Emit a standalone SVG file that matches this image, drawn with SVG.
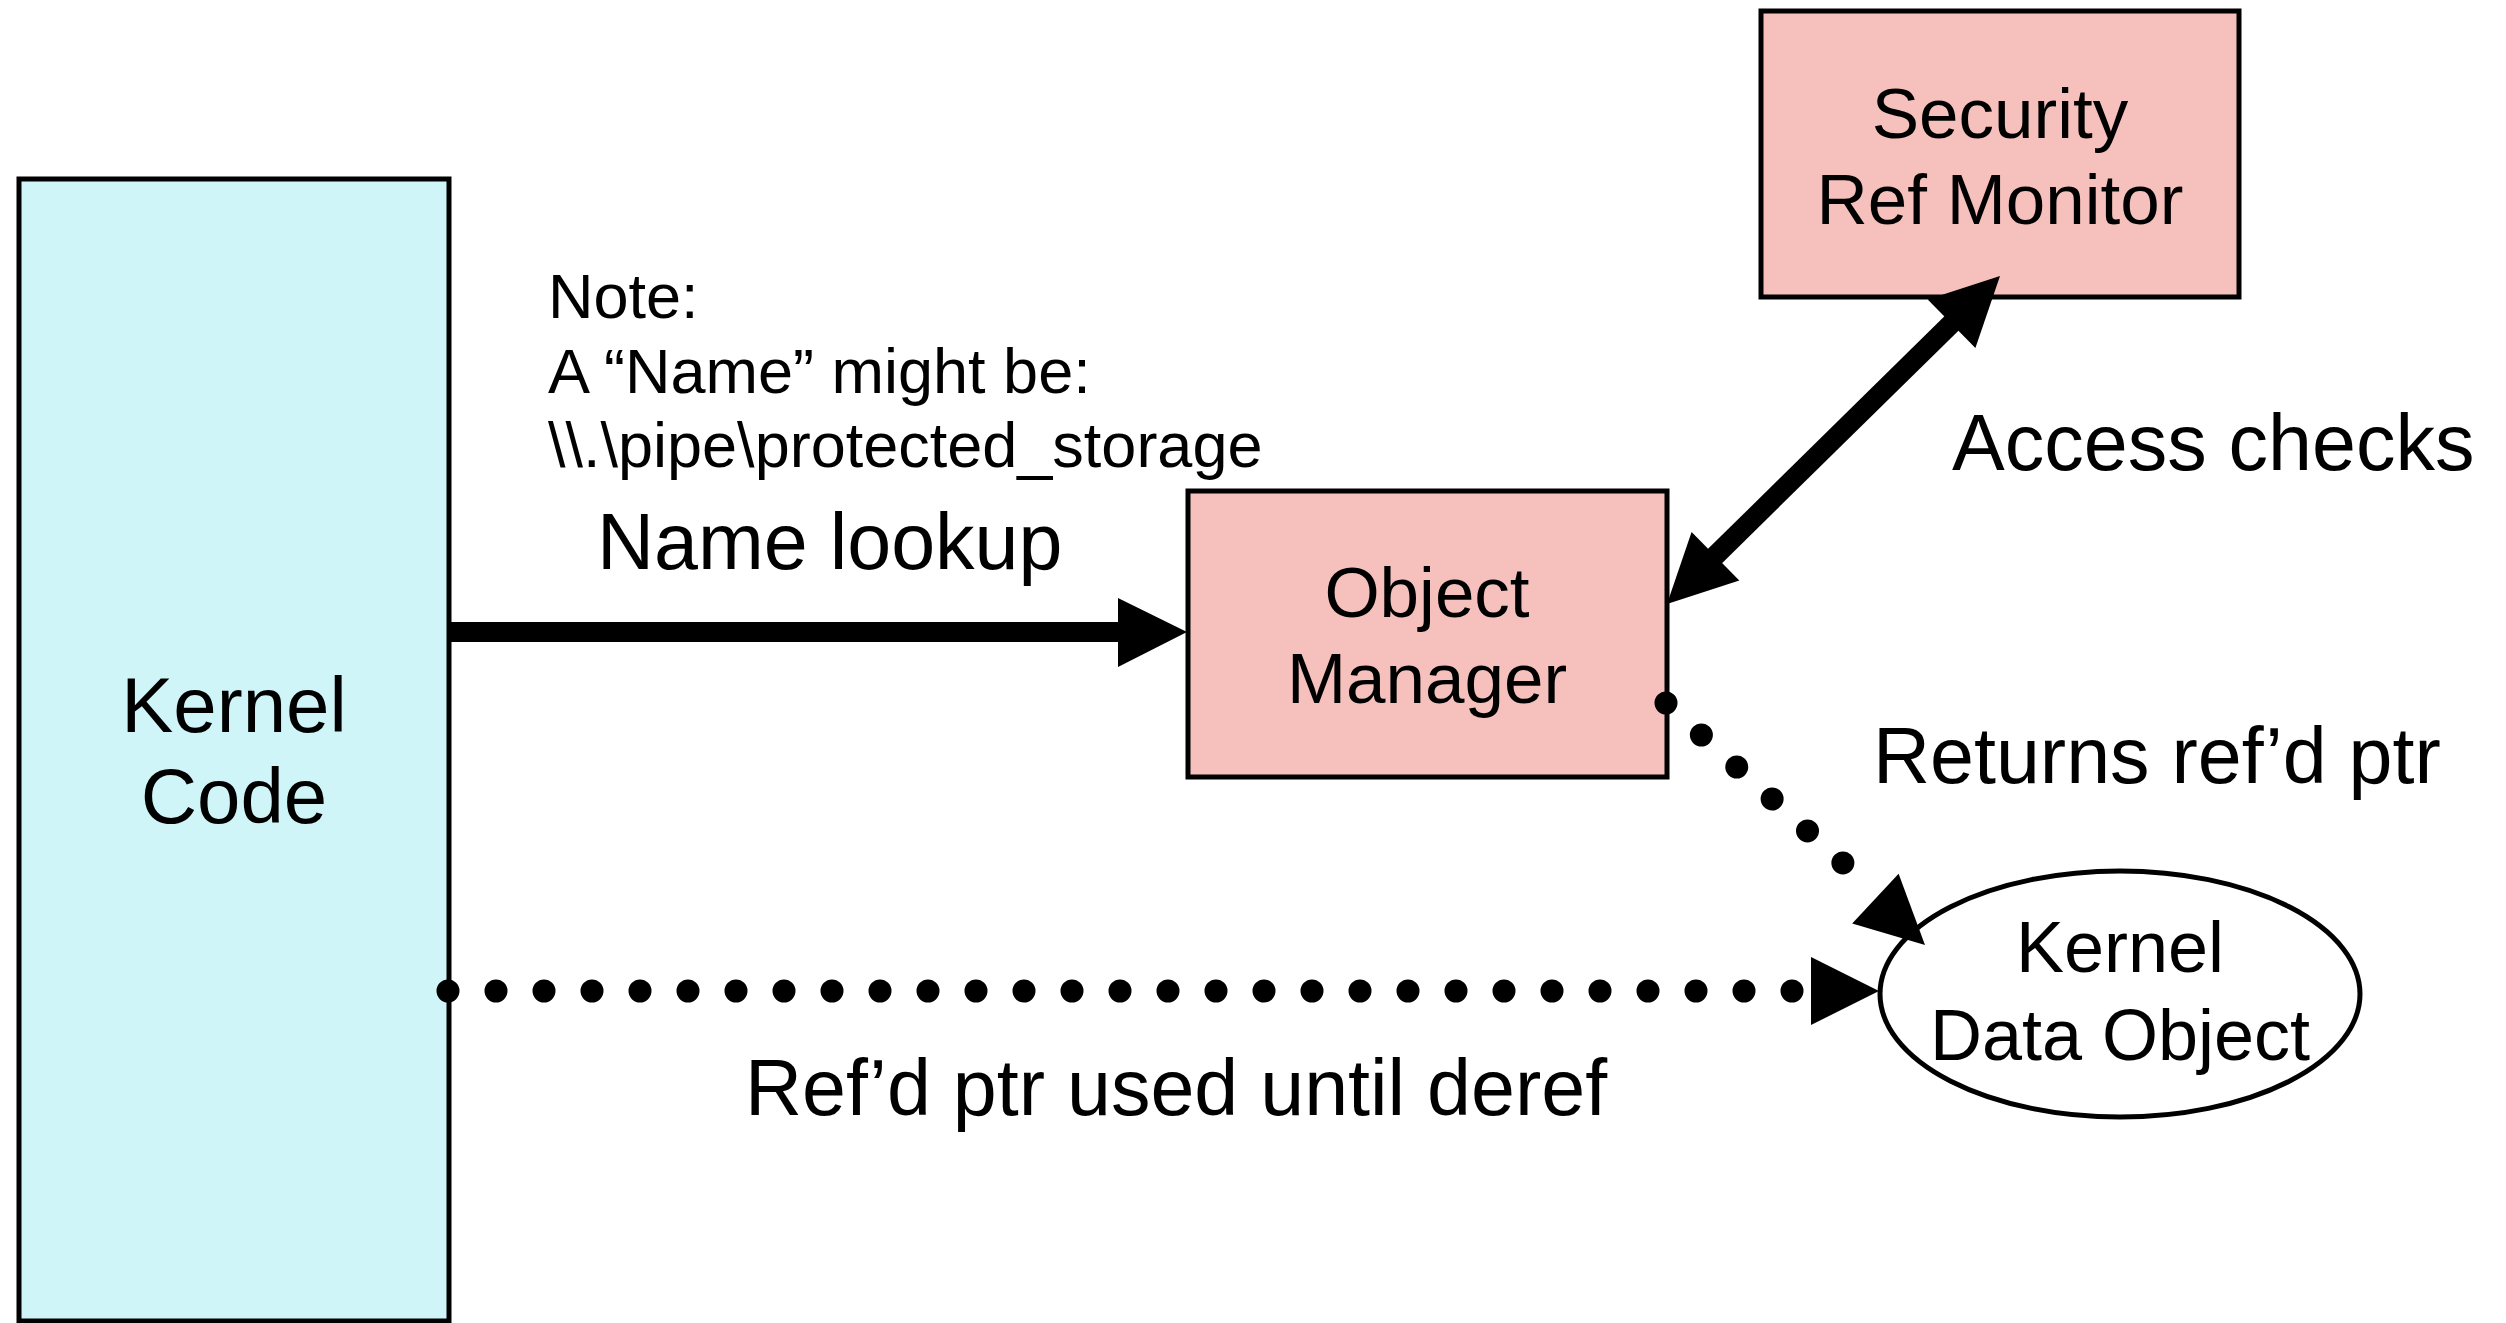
<svg xmlns="http://www.w3.org/2000/svg" width="2506" height="1323" viewBox="0 0 2506 1323">
  <style>
    text { font-family: "Liberation Sans", Arial, Helvetica, sans-serif; fill: #000; }
    .label { font-size: 79px; }
    .boxlabel { font-size: 71px; text-anchor: middle; }
    .note { font-size: 63px; }
    .box { stroke: #000; stroke-width: 5; }
    .kernel { fill: #CFF5F8; }
    .exec { fill: #F6C1BC; }
    .solid { stroke: #000; stroke-width: 20; fill: none; }
    .dotted { stroke: #000; stroke-width: 23; stroke-linecap: round; fill: none; }
    .head { fill: #000; }
  </style>
  <rect width="2506" height="1323" fill="#fff"/>

  <!-- Kernel code (extends past the bottom edge) -->
  <g id="kernel-code">
    <rect class="box kernel" x="19" y="179" width="430" height="1142"/>
    <text class="label" x="234" y="732" text-anchor="middle" style="font-size:78px">Kernel</text>
    <text class="label" x="234" y="823" text-anchor="middle" style="font-size:78px">Code</text>
  </g>

  <!-- Security reference monitor -->
  <g id="security-ref-monitor">
    <rect class="box exec" x="1761" y="11" width="478" height="286"/>
    <text class="boxlabel" x="2000" y="138">Security</text>
    <text class="boxlabel" x="2000" y="224">Ref Monitor</text>
  </g>

  <!-- Object manager -->
  <g id="object-manager">
    <rect class="box exec" x="1188" y="491" width="479" height="286"/>
    <text class="boxlabel" x="1427" y="617">Object</text>
    <text class="boxlabel" x="1427" y="703">Manager</text>
  </g>

  <!-- Kernel data object -->
  <g id="kernel-data-object">
    <ellipse cx="2120" cy="994" rx="240" ry="123" fill="#fff" stroke="#000" stroke-width="5"/>
    <text class="boxlabel" x="2120" y="972" style="font-size:72px">Kernel</text>
    <text class="boxlabel" x="2120" y="1060" style="font-size:72px">Data Object</text>
  </g>

  <!-- Connectors -->
  <g id="connectors">
    <!-- name lookup -->
    <line class="solid" x1="449" y1="632" x2="1122" y2="632"/>
    <polygon class="head" points="1118,598 1187,632 1118,667"/>

    <!-- access checks (both ways) -->
    <line class="solid" x1="1713" y1="558" x2="1954" y2="321"/>
    <polygon class="head" points="2000,276 1975.4,348 1927.7,299.5"/>
    <polygon class="head" points="1667,604 1691.6,532 1739.3,580.5"/>

    <!-- returns referenced pointer: six dots then the head -->
    <line class="dotted" stroke-dasharray="0 47.7" x1="1666" y1="703" x2="1844" y2="864"/>
    <polygon class="head" points="1925,945 1898.6,873.8 1852.2,923.4"/>

    <!-- referenced pointer in use: 29 dots then the head -->
    <line class="dotted" stroke-dasharray="0 48" x1="448" y1="991" x2="1794" y2="991"/>
    <polygon class="head" points="1811,957 1879,991 1811,1025"/>
  </g>

  <!-- Free labels -->
  <g id="labels">
    <text class="note" x="548" y="318">Note:</text>
    <text class="note" x="548" y="393">A “Name” might be:</text>
    <text class="note" x="548" y="467">\\.\pipe\protected_storage</text>
    <text class="label" x="597" y="569">Name lookup</text>
    <text class="label" x="1952" y="470">Access checks</text>
    <text class="label" x="1873" y="783">Returns ref’d ptr</text>
    <text class="label" x="745" y="1115">Ref’d ptr used until deref</text>
  </g>
</svg>
